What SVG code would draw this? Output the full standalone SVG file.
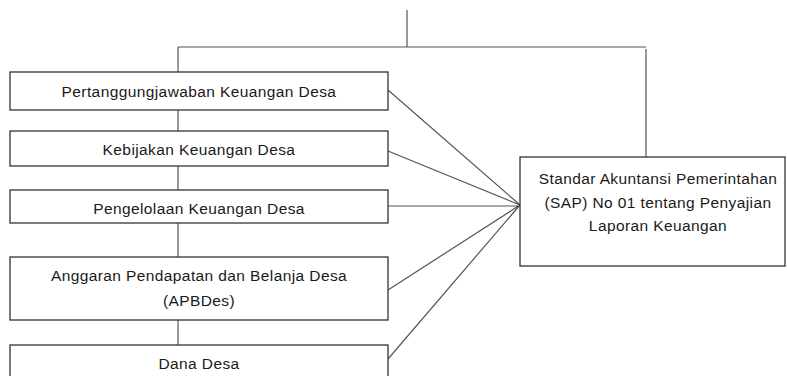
<svg xmlns="http://www.w3.org/2000/svg" width="787" height="376" viewBox="0 0 787 376">
<style>
.box{fill:#fff;stroke:#333;stroke-width:1.3}
.ln{fill:none;stroke:#555;stroke-width:1.2}
text{font-family:"Liberation Sans",Arial,sans-serif;font-size:15.5px;fill:#1a1a1a;text-anchor:middle;letter-spacing:0.4px}
</style>
<rect width="787" height="376" fill="#fff"/>
<g id="connectors">
<path class="ln" d="M407 10V47M178 47H646M646 49V157M178 47V346"/>
<path class="ln" d="M388 90L520 205M388 151L520 205M388 206H520M388 290L520 205M388 359L520 205"/>
</g>
<g id="n1"><rect class="box" x="10" y="72" width="378" height="38"/><text x="199" y="97">Pertanggungjawaban Keuangan Desa</text></g>
<g id="n2"><rect class="box" x="10" y="131" width="378" height="35"/><text x="199" y="155">Kebijakan Keuangan Desa</text></g>
<g id="n3"><rect class="box" x="10" y="190" width="378" height="33"/><text x="199" y="214">Pengelolaan Keuangan Desa</text></g>
<g id="n4"><rect class="box" x="10" y="257" width="378" height="63"/><text x="199" y="281">Anggaran Pendapatan dan Belanja Desa</text><text x="199" y="306">(APBDes)</text></g>
<g id="n5"><rect class="box" x="10" y="345" width="378" height="40"/><text x="199" y="369">Dana Desa</text></g>
<g id="n6"><rect class="box" x="520" y="157" width="265" height="109"/><text x="658" y="184">Standar Akuntansi Pemerintahan</text><text x="658" y="207.5">(SAP) No 01 tentang Penyajian</text><text x="658" y="231">Laporan Keuangan</text></g>
</svg>
